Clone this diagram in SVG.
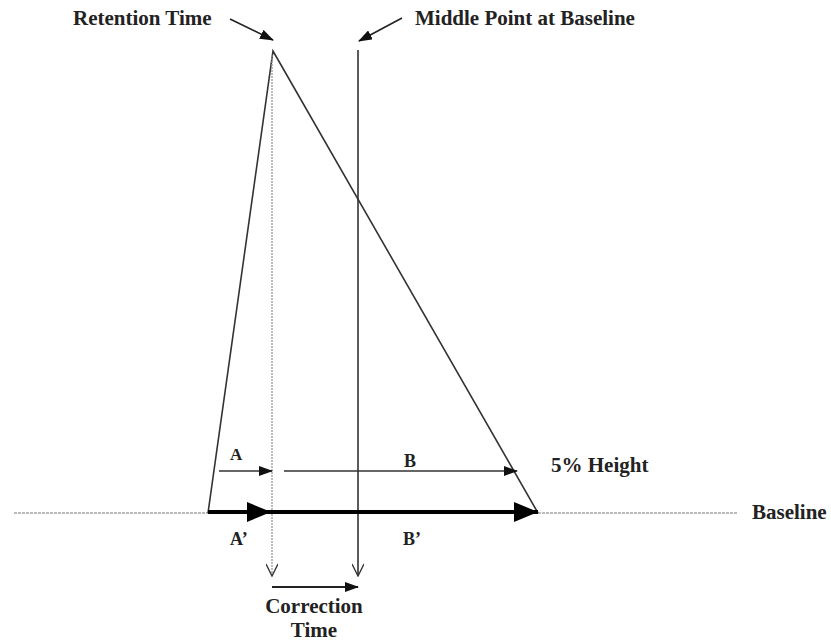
<svg xmlns="http://www.w3.org/2000/svg" width="831" height="644" viewBox="0 0 831 644">
<style>
text{font-family:"Liberation Serif","Times New Roman",serif;font-weight:bold;fill:#222;font-size:21px}
.thin{stroke:#333;stroke-width:1.6;fill:none}
</style>
<defs>
<marker id="solid" markerWidth="14" markerHeight="10" refX="13" refY="5" orient="auto" markerUnits="userSpaceOnUse"><path d="M0,0 L14,5 L0,10 z" fill="#111"/></marker>
<marker id="big" markerWidth="24" markerHeight="20" refX="24" refY="10" orient="auto" markerUnits="userSpaceOnUse"><path d="M0,0 L24,10 L0,20 z" fill="#000"/></marker>
<marker id="open" markerWidth="14" markerHeight="12" refX="13" refY="6" orient="auto" markerUnits="userSpaceOnUse"><path d="M1,0 L13,6 L1,12" fill="none" stroke="#333" stroke-width="1.4"/></marker>
</defs>
<rect width="831" height="644" fill="#fff"/>
<g id="baseline">
<line x1="14" y1="513" x2="738" y2="513" stroke="#bbb" stroke-width="2" stroke-dasharray="3,1"/>
<text x="752" y="519">Baseline</text>
</g>
<g id="peak">
<polyline class="thin" points="208,513 273,51 538,513"/>
</g>
<g id="connectors">
<line x1="272" y1="55" x2="272" y2="576" stroke="#999" stroke-width="1.3" stroke-dasharray="2,1" marker-end="url(#open)"/>
<line x1="358" y1="50" x2="358" y2="576" class="thin" marker-end="url(#open)"/>
<line x1="230" y1="19" x2="273" y2="40" stroke="#222" stroke-width="1.6" marker-end="url(#solid)"/>
<line x1="402" y1="18" x2="359" y2="41" stroke="#222" stroke-width="1.6" marker-end="url(#solid)"/>
<line x1="219" y1="471" x2="272" y2="471" class="thin" marker-end="url(#solid)"/>
<line x1="284" y1="471" x2="517" y2="471" class="thin" marker-end="url(#solid)"/>
<line x1="208" y1="512" x2="271" y2="512" stroke="#000" stroke-width="4" marker-end="url(#big)"/>
<line x1="271" y1="512" x2="538" y2="512" stroke="#000" stroke-width="4" marker-end="url(#big)"/>
<line x1="272" y1="587" x2="358" y2="587" stroke="#222" stroke-width="2" marker-end="url(#solid)"/>
</g>
<g id="labels">
<text x="73" y="25">Retention Time</text>
<text x="415" y="25">Middle Point at Baseline</text>
<text x="230" y="460" style="font-size:17px">A</text>
<text x="404" y="467" style="font-size:18px">B</text>
<text x="551" y="472">5% Height</text>
<text x="230" y="545" style="font-size:18px">A’</text>
<text x="403" y="545" style="font-size:18px">B’</text>
<text x="314" y="613" text-anchor="middle">Correction</text>
<text x="314" y="637" text-anchor="middle">Time</text>
</g>
</svg>
